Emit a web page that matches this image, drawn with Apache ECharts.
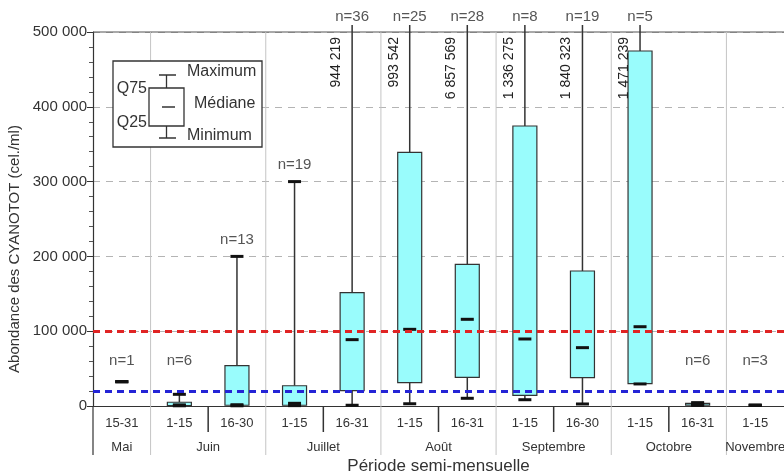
<!DOCTYPE html>
<html><head><meta charset="utf-8">
<script src="https://cdn.jsdelivr.net/npm/echarts@6/dist/echarts.min.js"></script>
<style>html,body{margin:0;padding:0;background:#fff}#c{width:784px;height:476px}</style>
</head><body><div id="c"></div>
<script>
// ---- data ----
const periods = ['15-31','1-15','16-30','1-15','16-31','1-15','16-31','1-15','16-30','1-15','16-31','1-15'];
const months = ['Mai','Juin','Juillet','Août','Septembre','Octobre','Novembre'];
const monthStart = [0,1,3,5,7,9,11];
const monthEnd = [0,2,4,6,8,10,11];
const mins    = [32500,   300,    300,    500,   1000,   3000,  10300,   8400,   2700,  29500,  800, 1000];
const q1s     = [32500,   600,   1000,   1000,  20500,  31200,  38300,  14300,  37900,  29800, 1200, 1000];
const medians = [32500,  1500,   1700,   3600,  88700, 102500, 115900,  89600,  78000, 106000, 2500, 1000];
const q3s     = [32500,  5000,  54000,  27100, 151500, 339000, 189400, 374300, 180500, 474600, 3500, 1000];
const maxs    = [32500, 15600, 200000, 300000, 944219, 993542, 6857569, 1336275, 1840323, 1471239, 4500, 1000];
const counts  = [1, 6, 13, 19, 36, 25, 28, 8, 19, 5, 6, 3];
const yTicks  = [0, 100000, 200000, 300000, 400000, 500000];
const thresholdRed = 100000;
const thresholdBlue = 20000;

const FONT = '"Liberation Sans", Arial, sans-serif';
const YMAX = yTicks[yTicks.length - 1];
function fmt(v) { return String(Math.round(v)).replace(/\B(?=(\d{3})+(?!\d))/g, ' '); }

const boxData = periods.map((p, i) => [i, mins[i], q1s[i], medians[i], q3s[i], maxs[i], counts[i]]);
const monthData = months.map((m, k) => [monthStart[k], monthEnd[k], 0]);

function renderBox(params, api) {
  const i = api.value(0);
  const mn = api.value(1), q1 = api.value(2), md = api.value(3), q3 = api.value(4), mx = api.value(5), n = api.value(6);
  const cx = api.coord([i, 0])[0];
  const yOf = v => api.coord([i, Math.min(v, YMAX)])[1];
  const top = api.coord([i, YMAX])[1];
  const clipped = mx > YMAX;
  const bw = 24, cw = 13;
  const ch = [];
  const yMx = clipped ? top - 7 : yOf(mx);
  const ln = {stroke: '#333', lineWidth: 1.5};
  ch.push({type: 'line', shape: {x1: cx, y1: yOf(q3), x2: cx, y2: yMx}, style: ln});
  ch.push({type: 'line', shape: {x1: cx, y1: yOf(q1), x2: cx, y2: yOf(mn)}, style: ln});
  if (q3 > q1) {
    ch.push({type: 'rect', shape: {x: cx - bw / 2, y: yOf(q3), width: bw, height: yOf(q1) - yOf(q3)},
      style: {fill: '#99fcfc', stroke: '#333', lineWidth: 1.2}});
  }
  const dash = y => ({type: 'rect', shape: {x: cx - cw / 2, y: y - 1.5, width: cw, height: 3}, style: {fill: '#111'}});
  if (!clipped) ch.push(dash(yOf(mx)));
  ch.push(dash(yOf(mn)));
  ch.push(dash(yOf(md)));
  const ny = clipped ? 16.5 : api.coord([i, Math.max(mx, 37000)])[1] - 17;
  ch.push({type: 'text', x: cx, y: ny, style: {text: 'n=' + n, align: 'center', verticalAlign: 'middle',
    fontSize: 15, fontFamily: FONT, fill: '#555'}});
  if (clipped) {
    ch.push({type: 'text', x: cx - 16, y: top + 5, rotation: Math.PI / 2,
      style: {text: fmt(mx), align: 'right', verticalAlign: 'middle', fontSize: 14, fontFamily: FONT, fill: '#222'}});
  }
  return {type: 'group', children: ch};
}

function renderDecor(params, api) {
  const s = api.value(0), e = api.value(1);
  const w = api.size([1, 0])[0];
  const y0 = api.coord([s, 0])[1];
  const top = api.coord([s, YMAX])[1];
  const left = api.coord([s, 0])[0] - w / 2;
  const right = api.coord([e, 0])[0] + w / 2;
  const ch = [];
  if (params.dataIndex === 0) {
    ch.push({type: 'line', shape: {x1: left, y1: y0, x2: left, y2: y0 + 49}, style: {stroke: '#333', lineWidth: 1.2}});
    const cs = params.coordSys;
    ch.push({type: 'line', shape: {x1: cs.x, y1: top, x2: cs.x + cs.width, y2: top}, style: {stroke: '#555', lineWidth: 1.2}});
  } else {
    ch.push({type: 'line', shape: {x1: left, y1: top, x2: left, y2: y0 + 49}, style: {stroke: '#c4c4c4', lineWidth: 1}});
  }
  if (e > s) {
    const mid = api.coord([s, 0])[0] + w / 2;
    ch.push({type: 'line', shape: {x1: mid, y1: y0, x2: mid, y2: y0 + 26}, style: {stroke: '#333', lineWidth: 1.5}});
  }
  ch.push({type: 'text', x: (left + right) / 2, y: y0 + 41, style: {text: months[params.dataIndex], align: 'center',
    verticalAlign: 'middle', fontSize: 13, fontFamily: FONT, fill: '#333'}});
  return {type: 'group', children: ch};
}

const chart = echarts.init(document.getElementById('c'), null, {renderer: 'canvas'});
chart.setOption({
  animation: false,
  backgroundColor: '#fff',
  grid: {left: 93, right: 0, top: 32, bottom: 70, containLabel: false, outerBoundsMode: 'none'},
  xAxis: {
    type: 'category', data: periods, boundaryGap: true,
    axisLine: {show: true, lineStyle: {color: '#333', width: 1.2}},
    axisTick: {show: false},
    axisLabel: {margin: 11, fontSize: 13, fontFamily: FONT, color: '#333', interval: 0},
    splitLine: {show: false},
    name: 'Période semi-mensuelle', nameLocation: 'middle', nameGap: 52,
    nameTextStyle: {fontSize: 17, fontFamily: FONT, color: '#333'}
  },
  yAxis: {
    type: 'value', min: 0, max: YMAX, interval: 100000,
    axisLine: {show: true, lineStyle: {color: '#333', width: 1.2}},
    axisTick: {show: true, length: 6, lineStyle: {color: '#333'}},
    minorTick: {show: true, splitNumber: 5, length: 4, lineStyle: {color: '#555'}},
    axisLabel: {margin: 6, fontSize: 15, fontFamily: FONT, color: '#333', formatter: v => fmt(v)},
    splitLine: {show: true, lineStyle: {color: '#b4b4b4', type: [7, 6], width: 1}},
    name: 'Abondance des CYANOTOT (cel./ml)', nameLocation: 'middle', nameGap: 61,
    nameTextStyle: {fontSize: 15, fontFamily: FONT, color: '#333', padding: [0, 60, 0, 0]}
  },
  series: [
    {type: 'custom', z: 1, clip: false, data: monthData, encode: {x: [0, 1], y: 2}, renderItem: renderDecor, silent: true},
    {type: 'custom', z: 2, clip: false, data: boxData, encode: {x: 0, y: [1, 2, 3, 4]}, renderItem: renderBox, silent: true},
    {type: 'line', z: 3, data: [], silent: true,
      markLine: {silent: true, symbol: 'none', label: {show: false}, animation: false,
        data: [
          {yAxis: thresholdRed, lineStyle: {color: '#e02424', type: [7, 5], width: 3}},
          {yAxis: thresholdBlue, lineStyle: {color: '#2424d6', type: [7, 5], width: 3}}
        ]}}
  ],
  graphic: [
    {type: 'rect', shape: {x: 113, y: 61, width: 149, height: 86}, style: {fill: '#fff', stroke: '#333', lineWidth: 1.3}, z: 10},
    {type: 'line', shape: {x1: 166.5, y1: 75, x2: 166.5, y2: 88}, style: {stroke: '#333', lineWidth: 1.3}, z: 11},
    {type: 'line', shape: {x1: 159, y1: 75, x2: 176, y2: 75}, style: {stroke: '#333', lineWidth: 1.5}, z: 11},
    {type: 'rect', shape: {x: 149, y: 88, width: 35, height: 38}, style: {fill: '#fff', stroke: '#333', lineWidth: 1.3}, z: 11},
    {type: 'line', shape: {x1: 162, y1: 107, x2: 175, y2: 107}, style: {stroke: '#333', lineWidth: 1.5}, z: 11},
    {type: 'line', shape: {x1: 166.5, y1: 126, x2: 166.5, y2: 138}, style: {stroke: '#333', lineWidth: 1.3}, z: 11},
    {type: 'line', shape: {x1: 159, y1: 138, x2: 176, y2: 138}, style: {stroke: '#333', lineWidth: 1.5}, z: 11},
    {type: 'text', x: 187, y: 72, style: {text: 'Maximum', fontSize: 16, fontFamily: FONT, fill: '#333', verticalAlign: 'middle'}, z: 11},
    {type: 'text', x: 147, y: 89, style: {text: 'Q75', fontSize: 16, fontFamily: FONT, fill: '#333', align: 'right', verticalAlign: 'middle'}, z: 11},
    {type: 'text', x: 194, y: 104, style: {text: 'Médiane', fontSize: 16, fontFamily: FONT, fill: '#333', verticalAlign: 'middle'}, z: 11},
    {type: 'text', x: 147, y: 123, style: {text: 'Q25', fontSize: 16, fontFamily: FONT, fill: '#333', align: 'right', verticalAlign: 'middle'}, z: 11},
    {type: 'text', x: 187, y: 136, style: {text: 'Minimum', fontSize: 16, fontFamily: FONT, fill: '#333', verticalAlign: 'middle'}, z: 11}
  ]
});
</script>
</body></html>
